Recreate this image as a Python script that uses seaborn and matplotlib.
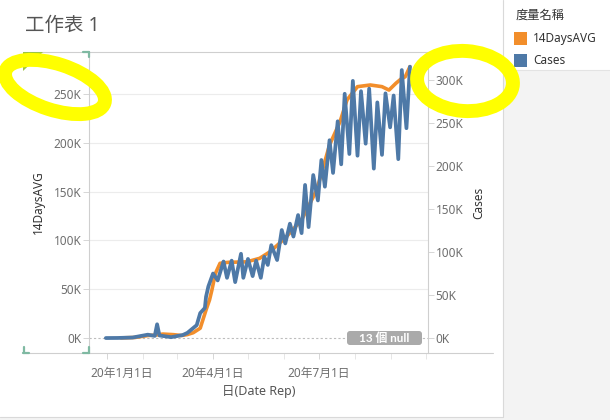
import matplotlib
matplotlib.use('Agg')
import numpy as np
import pandas as pd
import seaborn as sns
import matplotlib.pyplot as plt
import matplotlib.dates as mdates
import matplotlib.ticker as mticker
import matplotlib.transforms as mtransforms
from matplotlib.patches import Rectangle, FancyBboxPatch, Ellipse, Polygon
from matplotlib.lines import Line2D

# ---------------- data ----------------
case_dates = ['2019-12-31', '2020-01-10', '2020-01-23', '2020-02-05', '2020-02-11', '2020-02-13',
              '2020-02-15', '2020-02-25', '2020-03-06', '2020-03-10', '2020-03-18', '2020-03-21',
              '2020-03-25', '2020-03-26', '2020-03-28', '2020-04-01', '2020-04-05', '2020-04-10',
              '2020-04-13', '2020-04-17', '2020-04-20', '2020-04-25', '2020-04-27', '2020-05-01',
              '2020-05-05', '2020-05-08', '2020-05-12', '2020-05-15', '2020-05-18', '2020-05-21',
              '2020-05-26', '2020-05-30', '2020-06-02', '2020-06-06', '2020-06-09', '2020-06-13',
              '2020-06-16', '2020-06-19', '2020-06-22', '2020-06-26', '2020-06-30', '2020-07-03',
              '2020-07-06', '2020-07-10', '2020-07-13', '2020-07-17', '2020-07-20', '2020-07-23',
              '2020-07-27', '2020-07-30', '2020-08-03', '2020-08-06', '2020-08-10', '2020-08-13',
              '2020-08-17', '2020-08-20', '2020-08-24', '2020-08-27', '2020-08-31', '2020-09-03',
              '2020-09-07', '2020-09-10', '2020-09-14', '2020-09-17']
cases_k = [0.0, 0.1, 0.6, 3.9, 2.5, 16.0,
           3.0, 1.0, 3.5, 6.0, 15.0, 29.0,
           35.0, 48.0, 60.0, 75.0, 67.0, 89.0,
           70.0, 90.0, 65.0, 98.0, 70.0, 92.0,
           72.0, 90.0, 70.0, 94.5, 85.0, 108.0,
           90.7, 125.6, 110.0, 133.0, 118.0, 143.0,
           122.0, 178.0, 129.0, 189.5, 160.0, 207.0,
           176.0, 230.0, 192.0, 252.0, 202.0, 284.0,
           214.0, 299.0, 212.0, 287.0, 226.0, 290.0,
           197.0, 274.0, 213.0, 284.5, 245.0, 282.0,
           208.0, 311.6, 244.0, 315.5]

avg_dates = ['2020-01-13', '2020-01-25', '2020-02-05', '2020-02-12', '2020-02-18', '2020-02-27',
             '2020-03-05', '2020-03-10', '2020-03-15', '2020-03-21', '2020-03-26', '2020-03-29',
             '2020-03-31', '2020-04-03', '2020-04-07', '2020-04-14', '2020-04-30', '2020-05-11',
             '2020-05-20', '2020-05-28', '2020-06-03', '2020-06-16', '2020-06-29', '2020-07-10',
             '2020-07-19', '2020-07-25', '2020-08-03', '2020-08-14', '2020-08-24', '2020-08-30',
             '2020-09-05', '2020-09-09', '2020-09-13', '2020-09-17']
avg14_k = [0.1, 0.5, 2.5, 3.0, 4.0, 3.4,
           2.5, 3.5, 5.4, 10.0, 28.7, 39.0,
           49.0, 66.0, 76.5, 77.5, 78.0, 81.6,
           88.4, 97.0, 103.8, 121.0, 151.6, 197.7,
           221.6, 243.9, 257.5, 259.2, 257.5, 254.0,
           261.0, 265.0, 267.7, 278.0]

left_ticks_k = [0, 50, 100, 150, 200, 250]
right_ticks_k = [0, 50, 100, 150, 200, 250, 300]
x_tick_dates = ['2020-01-01', '2020-04-01', '2020-07-01']
x_tick_labels = ['20年1月1日', '20年4月1日', '20年7月1日']
null_count = 13

title = '工作表 1'
legend_title = '度量名稱'
series_names = ['14DaysAVG', 'Cases']
series_colors = ['#f28e2b', '#4e79a7']

# ---------------- styling ----------------
sns.set_theme(style='white')
plt.rcParams['font.family'] = ['Noto Sans', 'Noto Sans CJK TC', 'DejaVu Sans']

W, H = 610, 420
fig = plt.figure(figsize=(6.1, 4.2), dpi=100)
fig.patch.set_facecolor('#f3f3f3')
# pixel coordinate transform, y downward
PX = mtransforms.Affine2D().scale(1 / 100, -1 / 100).translate(0, 4.2) + fig.dpi_scale_trans

def add(a):
    fig.add_artist(a)
    return a

# white worksheet panel and legend card
add(Rectangle((0, 0), 503, 417, transform=PX, fc='white', ec='none', zorder=0))
add(Rectangle((503, 0), 107, 70, transform=PX, fc='white', ec='none', zorder=0))
add(Line2D([503, 503], [0, 417], transform=PX, color='#d9d9d9', lw=0.8, zorder=1))
add(Line2D([503, 610], [70, 70], transform=PX, color='#e3e3e3', lw=0.8, zorder=1))
add(Line2D([0, 503], [417, 417], transform=PX, color='#d9d9d9', lw=0.8, zorder=1))

# frame lines around panes
add(Line2D([23, 493], [52, 52], transform=PX, color='#cfcfcf', lw=0.8, zorder=1))
add(Line2D([23, 493], [353, 353], transform=PX, color='#cfcfcf', lw=0.8, zorder=1))

# title
fig.text(25 / W, 1 - 26 / H, title, fontsize=14, color='#555555', ha='left', va='center')

# ---------------- axes ----------------
L, R, T, B = 89, 428, 52, 353
ax = fig.add_axes([L / W, 1 - B / H, (R - L) / W, (B - T) / H])
ax.set_facecolor('none')

df_avg = pd.DataFrame({'date': pd.to_datetime(avg_dates), 'value': np.array(avg14_k) * 1000})
df_cases = pd.DataFrame({'date': pd.to_datetime(case_dates), 'value': np.array(cases_k) * 1000})

sns.lineplot(data=df_avg, x='date', y='value', ax=ax, color=series_colors[0], linewidth=2.6,
             solid_capstyle='round', solid_joinstyle='round', zorder=3)
ax2 = ax.twinx()
sns.lineplot(data=df_cases, x='date', y='value', ax=ax2, color=series_colors[1], linewidth=2.7,
             solid_capstyle='round', solid_joinstyle='round', zorder=3)

x0 = pd.Timestamp('2020-01-01')
ax.set_xlim(x0 - pd.Timedelta(days=15.45), x0 + pd.Timedelta(days=275.5))
ax.set_ylim(-15400, 293000)
ax2.set_ylim(-17400, 332600)

kfmt = mticker.FuncFormatter(lambda v, p: f'{int(round(v / 1000))}K')
ax.set_yticks([v * 1000 for v in left_ticks_k])
ax.yaxis.set_major_formatter(kfmt)
ax2.set_yticks([v * 1000 for v in right_ticks_k])
ax2.yaxis.set_major_formatter(kfmt)

ax.set_xticks(pd.to_datetime(x_tick_dates))
ax.set_xticklabels(x_tick_labels)
ax.xaxis.set_minor_locator(mdates.MonthLocator())

for a in (ax, ax2):
    for s in ('top', 'bottom'):
        a.spines[s].set_visible(False)
    a.spines['left'].set_visible(a is ax)
    a.spines['right'].set_visible(a is ax2)
    a.spines['left'].set_color('#cfcfcf')
    a.spines['right'].set_color('#cfcfcf')
    a.spines['left'].set_linewidth(0.8)
    a.spines['right'].set_linewidth(0.8)
    a.tick_params(axis='y', length=4, width=0.7, color='#d6d6d6', labelsize=8.5,
                  labelcolor='#6e6e6e', pad=1.5)
ax.tick_params(axis='x', which='major', length=4, width=0.7, color='#d6d6d6', labelsize=8.5,
               labelcolor='#6e6e6e', pad=6, bottom=True)
ax.tick_params(axis='x', which='minor', length=4, width=0.7, color='#e6e6e6', bottom=True)

ax.grid(axis='y', color='#ececec', linewidth=0.8)
ax.grid(axis='x', visible=False)
ax2.grid(False)
ax.yaxis.get_gridlines()[0].set_visible(False)
ax.axhline(0, color='#bdbdbd', lw=0.8, ls=(0, (2, 2)), zorder=1)

ax.set_xlabel('日(Date Rep)', fontsize=9, color='#555555')
ax.xaxis.set_label_coords(0.5, (B - 392) / (B - T))
ax.xaxis.label.set_va('center')
ax.set_ylabel(series_names[0], fontsize=8.5, color='#333333')
ax.yaxis.set_label_coords((38 - L) / (R - L), 0.5)
ax.yaxis.label.set_va('center')
ax2.set_ylabel(series_names[1], fontsize=8.5, color='#333333')
ax2.yaxis.set_label_coords((479 - L) / (R - L), 0.5)
ax2.yaxis.label.set_va('center')

# first date label is pushed right to stay inside the pane (Tableau behaviour)
first = ax.get_xticklabels()[0]
first.set_transform(first.get_transform() + mtransforms.ScaledTranslation(15 / 100, 0, fig.dpi_scale_trans))

# null indicator badge
add(FancyBboxPatch((347, 331), 75, 14, boxstyle='round,pad=0,rounding_size=3', transform=PX,
                   fc='#aaaaaa', ec='none', zorder=5))
add(plt.Text(384.5, 338.5, f'{null_count} 個 null', transform=PX, color='white', fontsize=8.5,
             fontweight='bold', family=['Lato', 'Noto Sans CJK TC', 'DejaVu Sans'],
             ha='center', va='center', zorder=6))

# selection corner marks on the left axis pane
green = '#7fb9a2'
for xs, ys in ([[83, 89], [52, 52]], [[88.5, 88.5], [52, 57]],
               [[23, 29], [352.5, 352.5]], [[23.5, 23.5], [347, 353]],
               [[83, 89], [352.5, 352.5]], [[88.5, 88.5], [347, 353]]):
    add(Line2D(xs, ys, transform=PX, color=green, lw=1.6, zorder=6))
add(Polygon([[23, 52], [43, 52], [23, 71]], closed=True, transform=PX, fc='#9cc444',
            ec='none', hatch='||||', zorder=6))

# legend card
fig.text(516 / W, 1 - 15 / H, legend_title, fontsize=8.8, color='#333333', ha='left', va='center')
for i, (name, col) in enumerate(zip(series_names, series_colors)):
    yc = 38.5 + i * 21.5
    add(Rectangle((514, yc - 6.5), 13, 13, transform=PX, fc=col, ec='none', zorder=4))
    fig.text(533 / W, 1 - yc / H, name, fontsize=8.5, color='#333333', ha='left', va='center')

# yellow hand-drawn highlights
add(Ellipse((55, 87), 104, 46, angle=18, transform=PX, fc='none', ec='#ffff00', lw=10, zorder=10))
add(Ellipse((465, 81), 96, 60, angle=4, transform=PX, fc='none', ec='#ffff00', lw=10, zorder=10))

fig.savefig('out.png', dpi=100, facecolor=fig.get_facecolor())
